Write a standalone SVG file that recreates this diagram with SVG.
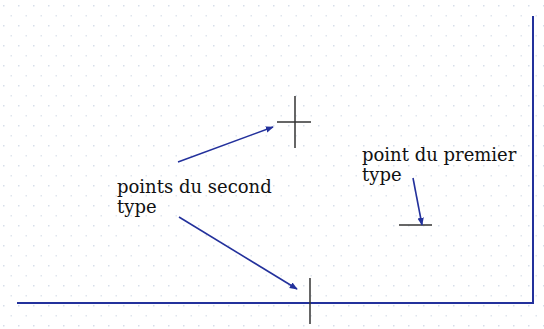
<svg xmlns="http://www.w3.org/2000/svg" width="544" height="329" viewBox="0 0 544 329">
<style>
.lbl{font-family:"DejaVu Serif","Liberation Serif",serif;font-size:18px;fill:#111111}
.frame{stroke:#23319c;stroke-width:2;fill:none}
.cross{stroke:#333;stroke-width:1.5;fill:none}
.arrow{stroke:#23319c;stroke-width:1.6;fill:none;marker-end:url(#ah)}
</style>
<defs>
<pattern id="grid" width="15" height="20" patternUnits="userSpaceOnUse" patternTransform="translate(3,5)">
<rect x="0" y="0" width="1.5" height="1.5" fill="#d6deea"/>
<rect x="7.5" y="10" width="1.5" height="1.5" fill="#dfe5ee"/>
</pattern>
<marker id="ah" viewBox="0 0 10 10" refX="9" refY="5" markerWidth="8" markerHeight="8" orient="auto" markerUnits="userSpaceOnUse">
<path d="M0,1 L10,5 L0,9 Z" fill="#23319c"/>
</marker>
</defs>
<rect width="544" height="329" fill="#ffffff"/>
<rect x="0" y="0" width="544" height="329" fill="url(#grid)"/>
<g id="frame">
<polyline class="frame" points="533,16 533,303 17,303"/>
</g>
<g id="point-second-top">
<line class="cross" x1="295" y1="96" x2="295" y2="148"/>
<line class="cross" x1="277" y1="122" x2="311" y2="122"/>
</g>
<g id="point-second-bottom">
<line class="cross" x1="310" y1="278" x2="310" y2="324"/>
</g>
<g id="point-premier">
<line class="cross" x1="399" y1="225" x2="432" y2="225"/>
</g>
<g id="label-second">
<text class="lbl" x="117" y="193">points du second</text>
<text class="lbl" x="117" y="213">type</text>
</g>
<g id="label-premier">
<text class="lbl" x="362" y="161">point du premier</text>
<text class="lbl" x="362" y="181">type</text>
</g>
<g id="connectors">
<line class="arrow" x1="178" y1="162" x2="273" y2="127"/>
<line class="arrow" x1="179" y1="217" x2="297" y2="289"/>
<line class="arrow" x1="413" y1="178" x2="422" y2="225"/>
</g>
</svg>
